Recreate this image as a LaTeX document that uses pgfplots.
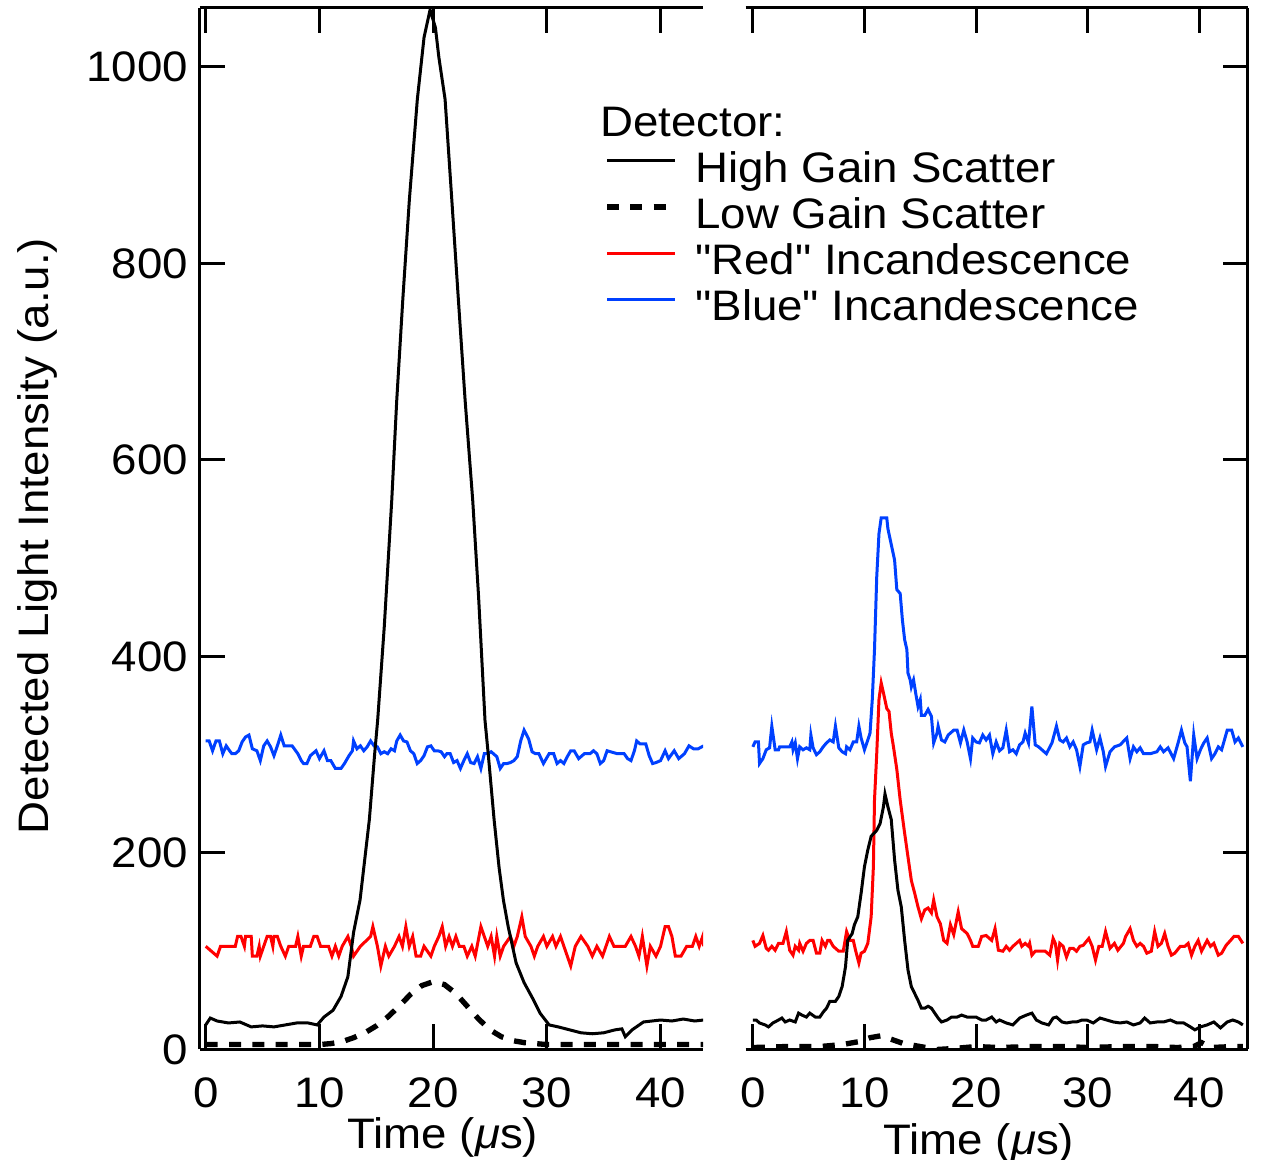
\documentclass[border=0pt]{standalone}
\usepackage{fontspec}
\setmainfont{Liberation Sans}[FakeStretch=1.07, Ligatures=TeXOff]
\usepackage{pgfplots}
\pgfplotsset{compat=1.18}
\definecolor{incred}{RGB}{255,0,0}
\definecolor{incblue}{RGB}{0,64,255}

\pgfplotsset{
  panel/.style={
    scale only axis, height=312.48pt, ymin=0, ymax=1060,
    xtick={0,10,20,30,40}, ytick={0,200,400,600,800,1000},
    axis line style={line width=0.9pt},
    tick style={line width=0.9pt, black},
    major tick length=7.5pt,
    /pgf/number format/assume math mode=true,
    /pgf/number format/1000 sep={},
    xticklabel style={anchor=base, yshift=-17.4pt},
    xlabel={Time (\textit{μ}s)},
  },
  hg/.style={black, line width=0.9pt},
  lg/.style={black, line width=1.6pt, dash pattern=on 3.6pt off 3.4pt},
  rd/.style={incred, line width=0.9pt},
  bl/.style={incblue, line width=0.9pt},
}

\begin{document}
\begin{tikzpicture}[font=\fontsize{12.8}{15}\selectfont]
\useasboundingbox (-59.88pt,-33.15pt) rectangle (318.42pt,314.85pt);

% left panel: scatter-only particle
\begin{axis}[panel, at={(0pt,0pt)}, width=151.08pt, xmin=-0.54, xmax=43.75,
  axis y line*=left, tick align=inside, ytick pos=left, xtick pos=both,
  ylabel={Detected Light Intensity (a.u.)},
  ylabel style={at={(rel axis cs:-0.301,0.493)}, anchor=base},
  xlabel style={at={(rel axis cs:0.483,0)}, anchor=base, yshift=-29.7pt},
  legend cell align=left,
  legend image code/.code={\draw[#1] (0pt,3.5pt) -- (20.5pt,3.5pt);},
  legend style={draw=none, fill=none, at={(rel axis cs:0.8025,0.8646)},
    anchor=north west, inner sep=0pt, row sep=0pt, column sep=5.2pt,
    nodes={inner sep=0pt, text height=9.83pt, text depth=4pt}},
]
\addlegendimage{hg}\addlegendentry{High Gain Scatter}
\addlegendimage{lg}\addlegendentry{Low Gain Scatter}
\addlegendimage{rd}\addlegendentry{"Red" Incandescence}
\addlegendimage{bl}\addlegendentry{"Blue" Incandescence}

\addplot[bl, forget plot] table {
x y
0 314
0.3 314
0.6 304
0.9 314
1.2 314
1.5 301
1.8 309
2.1 304
2.3 301
2.6 301
2.9 304
3.2 313
3.5 318
3.8 320
4.1 306
4.5 304
4.8 294
5.1 309
5.4 314
5.7 308
6.0 299
6.3 309
6.6 320
6.9 309
7.6 309
8.1 301
8.4 294
8.6 291
8.9 291
9.2 299
9.7 304
10.0 296
10.4 304
10.7 294
11.0 294
11.4 286
11.9 286
12.2 291
12.6 299
12.9 304
13.0 314
13.3 306
13.6 309
13.9 304
14.2 308
14.5 314
14.8 309
15.1 308
15.4 301
15.7 303
16.0 301
16.3 306
16.6 304
16.8 314
17.1 320
17.4 314
17.7 313
18.0 304
18.3 301
18.6 291
18.9 294
19.2 299
19.5 308
19.8 309
20.1 304
20.4 304
20.7 303
21.0 298
21.2 301
21.5 301
21.8 292
22.1 294
22.4 286
22.7 294
23.0 301
23.3 292
23.6 291
23.9 298
24.2 286
24.5 301
24.8 301
25.1 303
25.3 301
25.6 298
25.9 286
26.2 291
26.5 291
26.8 292
27.1 294
27.4 298
27.7 314
28.0 325
28.4 316
28.7 303
29.0 301
29.3 301
29.7 291
30.2 301
30.6 301
30.9 291
31.2 294
31.5 291
31.8 298
32.1 304
32.4 304
32.8 296
33.3 301
33.8 301
34.1 304
34.4 301
34.7 291
35.0 294
35.3 304
35.6 303
36.2 301
36.8 301
37.1 296
37.4 294
37.7 304
37.9 314
38.2 311
38.7 311
39.0 299
39.3 291
39.6 292
40.0 294
40.4 304
40.7 296
41.2 304
41.6 296
42.1 301
42.5 309
42.9 306
43.3 306
43.8 309
};

\addplot[rd, forget plot] table {
x y
0 105
1.0 95
1.3 105
2.6 105
2.8 115
3.1 115
3.4 105
3.5 115
4.0 115
4.1 95
4.5 95
4.7 105
4.8 95
5.1 105
5.4 115
5.7 115
5.9 105
6.0 115
6.3 115
6.6 105
7.0 95
7.3 105
7.9 105
8.1 115
8.4 95
8.6 105
9.2 105
9.5 115
9.8 115
10.1 105
10.8 105
11.1 95
11.4 105
11.7 95
12.0 105
12.5 115
12.8 105
13.0 95
13.6 105
14.5 115
14.7 125
15.1 105
15.4 85
15.8 105
16.1 95
16.6 105
17.0 115
17.3 105
17.6 125
17.9 105
18.2 115
18.5 95
18.9 95
19.2 105
19.8 95
20.1 105
20.5 115
20.8 125
21.1 105
21.4 115
21.7 105
22.0 115
22.3 105
22.7 105
23.0 95
23.4 105
23.7 95
24.2 125
24.5 115
24.8 105
25.1 115
25.4 95
25.6 115
25.9 95
26.2 105
26.8 115
27.1 105
27.4 115
27.8 135
28.1 115
28.6 105
28.9 95
29.2 105
29.7 115
30.0 105
30.5 115
30.8 105
31.2 115
31.5 105
32.1 85
32.5 105
33.0 115
33.6 105
34.0 95
34.4 105
34.9 95
35.2 105
35.5 115
35.9 105
36.5 105
36.9 105
37.4 115
37.8 105
38.1 95
38.4 115
38.8 85
39.1 105
39.6 95
40.0 105
40.4 125
40.7 125
41.0 115
41.3 95
41.8 95
42.3 105
42.8 105
43.1 115
43.4 105
43.7 115
43.8 105
};

\addplot[lg, forget plot] table {
x y
0 5
5 5
10 5
11 6
12 8
13 12
14 17
15 24
16 33
17 44
18 56
19 65
20 69
21 66
22 57
23 44
24 31
25 20
26 13
27 9
28 7
29 6
30 5
35 5
40 5
43.8 5
};

\addplot[hg, forget plot] table {
x y
0 25
0.4 32
1 29
2 27
3 28
4 23
5 24
6 23
7 25
8 27
9 27
9.8 25
10.4 33
11.2 40
11.9 54
12.5 74
13.0 119
13.57 152
14.0 195
14.39 234
14.85 300
15.12 335
15.7 430
16.36 559
16.8 661
17.33 763
17.91 865
18.61 967
19.2 1030
19.73 1058
20.2 1040
20.5 1010
21.05 967
21.64 865
22.22 763
22.81 661
23.48 559
24.0 460
24.56 335
24.85 300
25.36 234
25.8 185
26.18 152
26.6 125
27.3 88
28.0 68
28.8 51
29.4 37
30.2 25
31 23
32 20
33 17
34 16
35 17
36 20
36.6 21
36.9 13
37.5 20
38.5 28
40 30
41 29
42 31
43 29
43.8 30
};
\end{axis}

% right panel: incandescing particle
\begin{axis}[panel, at={(163.83pt,0pt)}, width=150.69pt, xmin=-0.64, xmax=44.36,
  axis y line*=right, tick align=inside, ytick pos=right, yticklabel=\empty,
  xtick pos=both,
  xlabel style={at={(rel axis cs:0.464,0)}, anchor=base, yshift=-31.5pt},
]
\addplot[lg] table {
x y
0 2
3 3
6 3
8 5
9.5 8
10.5 12
11.5 14
12.5 10
13.5 6
15 3
16.5 0
18 1
20 3
22 2
25 3
28 3
30 2
33 3
36 3
38 2
39.5 3
40.2 7
41 2
43 3
43.9 3
};

\addplot[bl] table {
x y
0.0 308
0.2 313
0.5 313
0.6 291
0.9 296
1.2 305
1.5 307
1.7 329
2.0 305
2.3 305
2.4 308
3.3 308
3.5 313
3.6 305
3.8 312
4.0 296
4.2 308
4.5 305
4.8 307
5.1 305
5.2 320
5.4 307
5.7 300
6.0 303
6.3 308
6.6 312
6.9 315
7.2 313
7.4 329
7.7 307
8.0 303
8.3 301
8.4 308
8.7 305
9.0 313
9.3 313
9.5 329
9.7 317
10.0 305
10.3 315
10.5 322
10.7 356
10.9 407
11.1 481
11.3 525
11.5 541
12.0 541
12.1 530
12.4 514
12.7 498
12.9 468
13.2 464
13.4 437
13.6 417
13.8 407
13.9 383
14.1 376
14.2 369
14.4 376
14.6 362
14.8 349
15.0 356
15.1 340
15.4 340
15.7 346
16.0 339
16.2 312
16.5 322
16.6 329
16.9 315
17.2 313
17.5 320
18.0 325
18.3 325
18.6 312
18.9 325
19.2 313
19.5 296
19.7 317
20.0 313
20.3 312
20.6 320
20.9 315
21.2 320
21.5 301
21.8 313
22.1 304
22.4 307
22.7 325
23.0 303
23.3 305
23.6 301
23.9 310
24.2 313
24.4 322
24.7 312
25.0 349
25.3 310
25.6 308
25.9 305
26.3 301
26.8 312
27.2 329
27.5 315
27.8 313
28.1 317
28.4 308
28.7 313
29.0 305
29.3 288
29.6 310
29.9 312
30.2 313
30.4 325
30.8 305
31.1 317
31.4 303
31.6 288
32.0 303
32.4 308
32.9 310
33.5 317
33.8 296
34.1 308
34.4 303
34.7 307
35.0 301
35.6 301
36.2 303
36.5 308
36.8 303
37.2 307
37.7 296
38.1 312
38.4 325
38.7 312
38.9 308
39.2 273
39.5 320
39.8 296
40.1 305
40.4 312
40.7 317
41.1 296
41.4 301
41.7 308
42.0 305
42.5 325
42.9 325
43.2 313
43.5 317
43.9 308
};

\addplot[rd] table {
x y
0.0 111
0.2 105
0.6 108
0.9 116
1.2 103
1.4 101
1.7 105
2.0 101
2.3 108
2.7 108
3.0 120
3.3 101
3.6 96
3.8 105
4.1 101
4.2 108
4.5 100
4.8 108
5.1 111
5.4 111
5.7 98
6.0 98
6.2 111
6.5 105
6.7 111
6.9 111
7.2 105
7.7 100
8.1 100
8.4 120
8.7 111
9.0 111
9.2 101
9.5 88
9.7 98
10.0 100
10.3 108
10.6 135
10.8 186
10.9 254
11.1 301
11.3 356
11.5 373
11.7 363
12.0 347
12.2 344
12.4 322
12.6 308
12.9 285
13.2 254
13.6 220
13.9 196
14.2 172
14.5 159
14.8 145
15.1 133
15.4 142
15.7 144
16.0 139
16.2 152
16.5 135
16.8 128
17.1 111
17.4 108
17.7 127
18.0 117
18.4 140
18.7 123
19.2 118
19.5 111
19.7 105
20.2 105
20.5 115
20.9 116
21.4 111
21.7 123
22.0 101
22.4 100
22.7 105
23.0 101
23.3 105
23.6 108
23.9 111
24.1 105
24.4 108
24.7 105
24.8 108
25.0 96
25.3 100
25.7 100
26.2 100
26.6 96
26.9 113
27.1 108
27.3 91
27.5 108
27.8 105
28.1 94
28.4 103
28.7 103
29.0 100
29.3 105
29.6 106
30.1 113
30.4 105
30.7 91
31.0 105
31.3 105
31.6 120
32.0 103
32.4 108
32.7 101
33.2 108
33.4 115
33.8 123
34.1 111
34.4 105
34.7 108
35.0 105
35.3 98
35.7 100
36.0 120
36.3 105
36.6 108
36.9 118
37.2 105
37.5 96
37.8 98
38.3 105
38.7 105
39.0 108
39.3 96
39.6 105
39.9 111
40.2 100
40.7 111
41.0 105
41.3 108
41.7 96
42.0 98
42.4 106
42.8 111
43.1 115
43.5 115
43.9 108
};

\addplot[hg] table {
x y
0.0 30
0.3 30
0.6 27
1.1 25
1.4 23
1.8 27
2.3 30
2.6 32
2.9 28
3.3 30
3.8 28
4.1 37
4.4 35
4.8 33
5.1 37
5.6 33
6.0 33
6.3 38
6.6 42
6.9 49
7.4 49
7.7 54
8.0 64
8.3 84
8.5 111
8.9 118
9.1 127
9.4 135
9.7 159
10.0 186
10.3 203
10.6 217
11.1 223
11.4 230
11.7 247
11.84 260
12.0 252
12.1 247
12.4 234
12.7 193
13.0 162
13.3 145
13.6 111
13.9 81
14.2 64
14.5 57
14.8 50
15.1 42
15.4 42
15.7 44
16.0 42
16.3 37
16.6 32
16.9 28
17.4 30
17.8 33
18.3 33
18.7 35
19.2 33
19.6 33
20.0 33
20.5 30
20.9 30
21.4 33
21.8 28
22.1 30
22.7 27
23.3 25
23.9 32
24.5 35
25.0 37
25.4 30
25.9 27
26.5 25
26.9 32
27.2 33
27.7 28
28.1 27
28.6 28
29.0 28
29.5 30
29.9 30
30.5 27
31.1 32
31.7 30
32.3 28
32.9 27
33.5 28
34.1 25
34.7 27
35.1 32
35.6 27
36.2 28
36.8 28
37.4 30
38.0 27
38.6 27
39.2 23
39.6 20
40.1 23
40.7 25
41.3 28
41.9 22
42.5 28
43.0 30
43.5 28
43.9 25
};
\end{axis}

\node[anchor=base west, inner sep=0pt] at (120.03pt,273.84pt) {Detector:};
\end{tikzpicture}
\end{document}
